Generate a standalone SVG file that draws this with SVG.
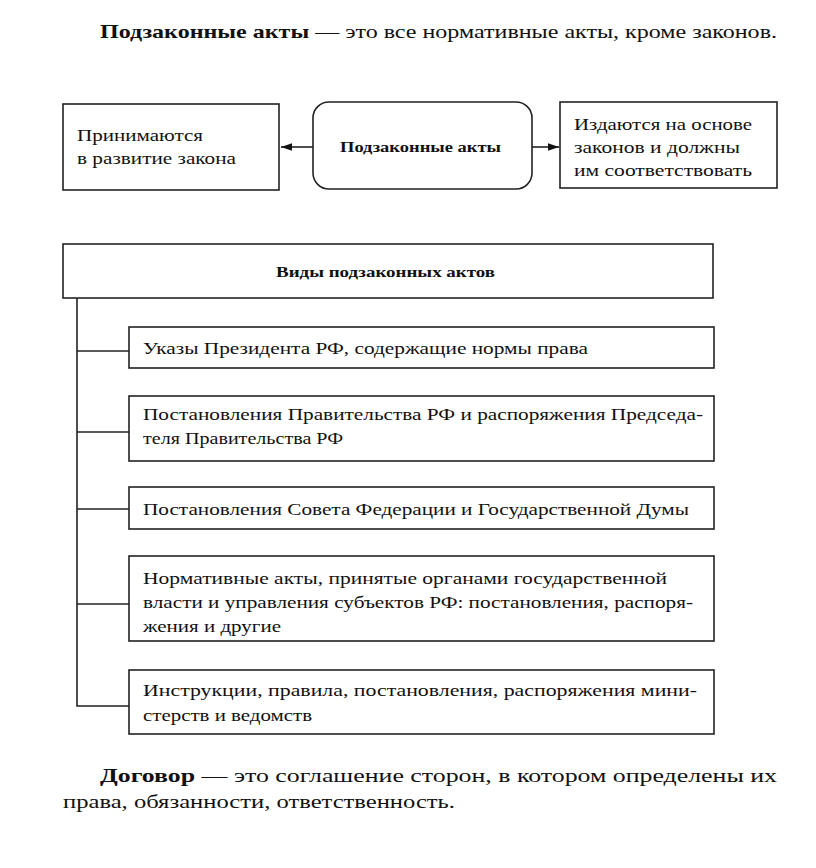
<svg xmlns="http://www.w3.org/2000/svg" width="816" height="868" viewBox="0 0 816 868">
<style>
.box{fill:#fff;stroke:#222;stroke-width:1.6}
.ln{fill:none;stroke:#222;stroke-width:1.6}
text{font-family:"Liberation Serif","DejaVu Serif",serif;fill:#111}
.t{font-size:17px}
.b{font-weight:bold}
.big{font-size:19px}
</style>
<defs>
<marker id="ah" viewBox="0 0 10 10" refX="10" refY="5" markerWidth="7" markerHeight="7" orient="auto">
<path d="M0,1.5 L10,5 L0,8.5 Z" fill="#111"/>
</marker>
</defs>
<text class="big" x="100" y="38" textLength="677" lengthAdjust="spacingAndGlyphs"><tspan class="b">Подзаконные акты</tspan> — это все нормативные акты, кроме законов.</text>
<g id="connectors">
<line class="ln" x1="313" y1="147" x2="281" y2="147" marker-end="url(#ah)"/>
<line class="ln" x1="532" y1="147" x2="559" y2="147" marker-end="url(#ah)"/>
<polyline class="ln" points="77,298 77,706 129,706"/>
<line class="ln" x1="77" y1="351" x2="129" y2="351"/>
<line class="ln" x1="77" y1="432" x2="129" y2="432"/>
<line class="ln" x1="77" y1="509" x2="129" y2="509"/>
<line class="ln" x1="77" y1="604" x2="129" y2="604"/>
</g>
<g id="left">
<rect class="box" x="63" y="104" width="216" height="86"/>
<text class="t" x="77" y="141" textLength="126" lengthAdjust="spacingAndGlyphs">Принимаются</text>
<text class="t" x="77" y="164" textLength="159" lengthAdjust="spacingAndGlyphs">в развитие закона</text>
</g>
<g id="center">
<rect class="box" x="313" y="102" width="219" height="87" rx="16"/>
<text class="b" x="340" y="152" font-size="15" textLength="161" lengthAdjust="spacingAndGlyphs">Подзаконные акты</text>
</g>
<g id="right">
<rect class="box" x="560" y="102" width="217" height="86"/>
<text class="t" x="574" y="130" textLength="178" lengthAdjust="spacingAndGlyphs">Издаются на основе</text>
<text class="t" x="574" y="153" textLength="166" lengthAdjust="spacingAndGlyphs">законов и должны</text>
<text class="t" x="574" y="176" textLength="178" lengthAdjust="spacingAndGlyphs">им соответствовать</text>
</g>
<g id="header">
<rect class="box" x="63" y="244" width="650" height="54"/>
<text class="b" x="276" y="277" font-size="15" textLength="219" lengthAdjust="spacingAndGlyphs">Виды подзаконных актов</text>
</g>
<g id="item1">
<rect class="box" x="129" y="327" width="585" height="41"/>
<text class="t" x="143" y="354" textLength="445" lengthAdjust="spacingAndGlyphs">Указы Президента РФ, содержащие нормы права</text>
</g>
<g id="item2">
<rect class="box" x="129" y="396" width="585" height="65"/>
<text class="t" x="143" y="420" textLength="560" lengthAdjust="spacingAndGlyphs">Постановления Правительства РФ и распоряжения Председа-</text>
<text class="t" x="143" y="444" textLength="200" lengthAdjust="spacingAndGlyphs">теля Правительства РФ</text>
</g>
<g id="item3">
<rect class="box" x="129" y="487" width="585" height="42"/>
<text class="t" x="143" y="515" textLength="546" lengthAdjust="spacingAndGlyphs">Постановления Совета Федерации и Государственной Думы</text>
</g>
<g id="item4">
<rect class="box" x="129" y="556" width="585" height="85"/>
<text class="t" x="143" y="584" textLength="524" lengthAdjust="spacingAndGlyphs">Нормативные акты, принятые органами государственной</text>
<text class="t" x="143" y="608" textLength="550" lengthAdjust="spacingAndGlyphs">власти и управления субъектов РФ: постановления, распоря-</text>
<text class="t" x="143" y="632" textLength="138" lengthAdjust="spacingAndGlyphs">жения и другие</text>
</g>
<g id="item5">
<rect class="box" x="129" y="670" width="585" height="64"/>
<text class="t" x="143" y="696" textLength="554" lengthAdjust="spacingAndGlyphs">Инструкции, правила, постановления, распоряжения мини-</text>
<text class="t" x="143" y="721" textLength="169" lengthAdjust="spacingAndGlyphs">стерств и ведомств</text>
</g>
<text class="big" x="100" y="782" textLength="677" lengthAdjust="spacingAndGlyphs"><tspan class="b">Договор</tspan> — это соглашение сторон, в котором определены их</text>
<text class="big" x="63" y="808" textLength="392" lengthAdjust="spacingAndGlyphs">права, обязанности, ответственность.</text>
</svg>
